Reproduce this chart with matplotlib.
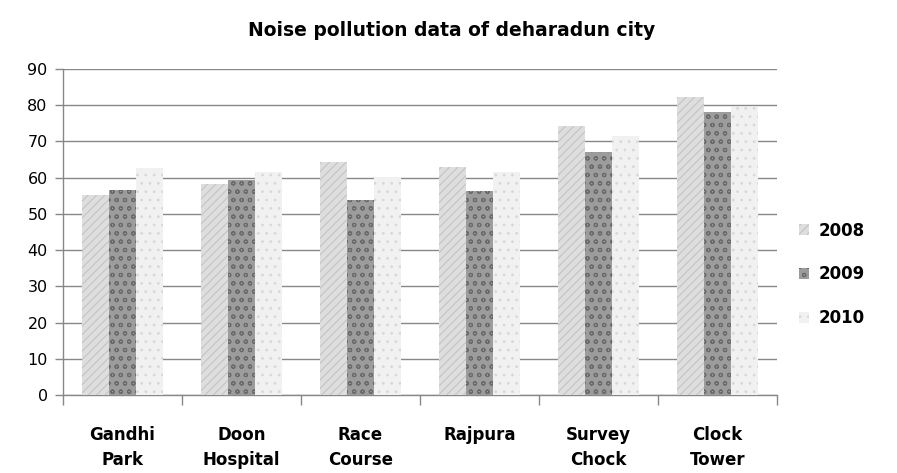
import numpy as np
import matplotlib.pyplot as plt

# Noise levels (dB)
locations = ["Gandhi\nPark", "Doon\nHospital", "Race\nCourse", "Rajpura", "Survey\nChock", "Clock\nTower"]
years = ["2008", "2009", "2010"]
noise_2008 = [55.2, 58.3, 64.3, 63.0, 74.3, 82.2]
noise_2009 = [56.6, 59.4, 53.8, 56.3, 67.1, 78.1]
noise_2010 = [62.8, 61.6, 60.3, 61.6, 71.5, 79.4]

plt.rcParams['hatch.linewidth'] = 0.8
fig = plt.figure(figsize=(8.97, 4.73), dpi=100)
ax = fig.add_axes([0.0702, 0.1649, 0.7958, 0.6892])

x = np.arange(len(locations))
w = 0.227
styles = [
    dict(color="#dedede", hatch="////", edgecolor="#c4c4c4"),
    dict(color="#9c9c9c", hatch="oo", edgecolor="#6a6a6a"),
    dict(color="#f1f1f1", hatch="..", edgecolor="#d8d8d8"),
]
series = [noise_2008, noise_2009, noise_2010]
for i, (vals, yr, st) in enumerate(zip(series, years, styles)):
    ax.bar(x + (i - 1) * w, vals, width=w, label=yr, facecolor=st["color"],
           hatch=st["hatch"], edgecolor=st["edgecolor"], linewidth=0, zorder=3)

ax.set_xlim(-0.5, len(locations) - 0.5)
ax.set_ylim(0, 90)
ax.set_yticks(range(0, 91, 10))
ax.grid(axis='y', color='#888888', linewidth=1.0, zorder=0)

ax.set_xticks(x)
ax.set_xticklabels(locations, fontsize=12, fontweight='bold', linespacing=1.55)
ax.set_xticks(np.arange(-0.5, len(locations), 1), minor=True)
ax.tick_params(axis='x', which='major', length=0, pad=22)
ax.tick_params(axis='x', which='minor', length=7, color='#888888', width=1)
ax.tick_params(axis='y', length=6, color='#888888', width=1, labelsize=11.5, pad=5)

for side in ['top', 'right']:
    ax.spines[side].set_visible(False)
for side in ['left', 'bottom']:
    ax.spines[side].set_color('#888888')
    ax.spines[side].set_linewidth(1.0)

fig.suptitle("Noise pollution data of deharadun city", x=0.503, y=0.955,
             fontsize=13.5, fontweight='bold')

leg = ax.legend(loc='center left', bbox_to_anchor=(1.01, 0.37), frameon=False,
                prop={'size': 12, 'weight': 'bold'}, handlelength=0.6,
                handleheight=0.6, labelspacing=1.55, handletextpad=0.6)

fig.savefig("out.png", dpi=100)
